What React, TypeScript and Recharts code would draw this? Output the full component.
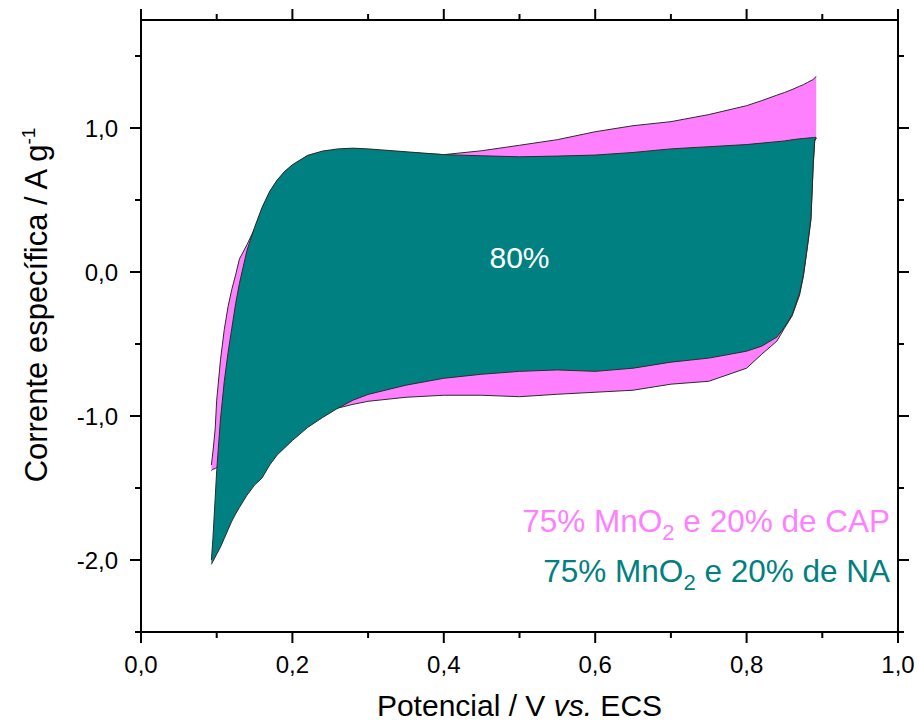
import React from 'react';
import { ComposedChart, Area, XAxis, YAxis, ReferenceDot, Legend } from 'recharts';

// potential grid (V vs. ECS) shared by both voltammograms
const potential = [
  0.093, 0.095, 0.098, 0.1, 0.105, 0.11, 0.115, 0.12, 0.125, 0.13, 0.14, 0.15, 0.16, 0.17, 0.18,
  0.19, 0.2, 0.22, 0.24, 0.26, 0.28, 0.3, 0.35, 0.4, 0.45, 0.5, 0.55, 0.6, 0.65, 0.7, 0.75, 0.8,
  0.82, 0.84, 0.85, 0.86, 0.87, 0.875, 0.88, 0.885, 0.888, 0.89, 0.892,
];

// 75% MnO2 e 20% de CAP (pink)
const capUpper = [
  -1.34, -1.25, -1.09, -0.89, -0.61, -0.4, -0.24, -0.12, -0.02, 0.09, 0.19, 0.3, 0.44, 0.555, 0.635,
  0.695, 0.74, 0.805, 0.835, 0.85, 0.855, 0.85, 0.83, 0.815, 0.842, 0.88, 0.919, 0.974, 1.016, 1.044,
  1.093, 1.155, 1.19, 1.228, 1.246, 1.267, 1.29, 1.301, 1.315, 1.329, 1.336, 1.35, 1.357,
];
const capLower = [
  -1.38, -1.37, -1.365, -1.357, -1.33, -1.31, -1.29, -1.27, -1.25, -1.23, -1.19, -1.15, -1.12, -1.09,
  -1.06, -1.04, -1.02, -0.99, -0.965, -0.945, -0.919, -0.898, -0.87, -0.856, -0.856, -0.866, -0.849,
  -0.835, -0.821, -0.779, -0.759, -0.668, -0.571, -0.48, -0.39, -0.306, -0.16, -0.03, 0.16, 0.36,
  0.74, 0.91, 0.93,
];

// 75% MnO2 e 20% de NA (teal)
const naUpper = [
  -2.0, -1.85, -1.57, -1.38, -1.02, -0.76, -0.56, -0.39, -0.22, -0.08, 0.15, 0.31, 0.45, 0.56, 0.64,
  0.7, 0.745, 0.81, 0.84, 0.855, 0.86, 0.855, 0.835, 0.815, 0.807, 0.8, 0.805, 0.812, 0.83, 0.855,
  0.87, 0.885, 0.895, 0.905, 0.91, 0.918, 0.925, 0.927, 0.93, 0.932, 0.933, 0.935, 0.935,
];
const naLower = [
  -2.03, -2.01, -1.98, -1.96, -1.91, -1.85, -1.79, -1.73, -1.68, -1.635, -1.55, -1.48, -1.43, -1.34,
  -1.27, -1.22, -1.17, -1.08, -1.01, -0.946, -0.89, -0.85, -0.786, -0.738, -0.71, -0.69, -0.68, -0.69,
  -0.668, -0.626, -0.598, -0.55, -0.515, -0.452, -0.383, -0.299, -0.146, -0.021, 0.167, 0.376, 0.75,
  0.919, 0.93,
];

const seriesNames = ['75% MnO2 e 20% de CAP', '75% MnO2 e 20% de NA'];
const seriesColors = ['#ff80ff', '#008080'];

const xTicks = [0, 0.1, 0.2, 0.3, 0.4, 0.5, 0.6, 0.7, 0.8, 0.9, 1.0];
const yTicks = [-2.5, -2, -1.5, -1, -0.5, 0, 0.5, 1, 1.5];

const data = potential.map((x, i) => ({
  x,
  cap: [capLower[i], capUpper[i]],
  na: [naLower[i], naUpper[i]],
}));

const PLOT = { left: 141, right: 898, top: 20, bottom: 632 };
const FONT = '"Liberation Sans", Arial, sans-serif';

const fmt = (v: number) => v.toFixed(1).replace('.', ',');

const axisLine = { stroke: '#000', strokeWidth: 2, strokeLinecap: 'square' as const };

// bottom axis ticks also mirror onto the top frame
const xTick = (props: any) => {
  const { payload } = props;
  const c = payload?.coordinate ?? props.x;
  const major = Math.round(payload.value * 10) % 2 === 0;
  const len = major ? 11 : 6;
  return (
    <g>
      <line x1={c} x2={c} y1={PLOT.bottom} y2={PLOT.bottom + len} stroke="#000" strokeWidth={2} />
      <line x1={c} x2={c} y1={PLOT.top} y2={PLOT.top - len} stroke="#000" strokeWidth={2} />
      {major && (
        <text x={c} y={PLOT.bottom + 40.5} textAnchor="middle" fontSize={24} fill="#000">
          {fmt(payload.value)}
        </text>
      )}
    </g>
  );
};

// left axis ticks also mirror onto the right frame
const yTick = (props: any) => {
  const { payload } = props;
  const c = payload?.coordinate ?? props.y;
  const major = Number.isInteger(payload.value);
  const len = major ? 11 : 6;
  return (
    <g>
      <line x1={PLOT.left} x2={PLOT.left - len} y1={c} y2={c} stroke="#000" strokeWidth={2} />
      <line x1={PLOT.right} x2={PLOT.right + len} y1={c} y2={c} stroke="#000" strokeWidth={2} />
      {major && (
        <text x={118} y={c + 8.5} textAnchor="end" fontSize={24} fill="#000">
          {fmt(payload.value)}
        </text>
      )}
    </g>
  );
};

const xTitle = () => (
  <text x={(PLOT.left + PLOT.right) / 2} y={716} textAnchor="middle" fontSize={30} fill="#000">
    Potencial / V <tspan fontStyle="italic">vs.</tspan> ECS
  </text>
);

const yTitle = () => (
  <text
    x={47}
    y={305}
    transform="rotate(-90 47 305)"
    textAnchor="middle"
    fontSize={31}
    fill="#000"
  >
    Corrente específica / A g<tspan fontSize={19} dy={-12}>-1</tspan>
  </text>
);

const withSub = (name: string) => {
  const [a, b] = name.split('MnO2');
  return (
    <>
      {a}MnO<span style={{ fontSize: 22, position: 'relative', top: 8 }}>2</span>
      {b}
    </>
  );
};

const renderLegend = () => (
  <div style={{ fontFamily: FONT }}>
    {seriesNames.map((name, i) => (
      <div
        key={name}
        style={{
          color: seriesColors[i],
          fontSize: 31.5,
          height: 50,
          lineHeight: '50px',
          textAlign: 'right',
          whiteSpace: 'nowrap',
        }}
      >
        {withSub(name)}
      </div>
    ))}
  </div>
);

export default function App() {
  return (
    <div style={{ position: 'absolute', left: 0, top: 0, width: 919, height: 724, background: '#fff', fontFamily: FONT }}>
      <ComposedChart
        width={919}
        height={724}
        data={data}
        margin={{ top: 8, right: 9, bottom: 20, left: 41 }}
      >
        <XAxis
          xAxisId="bottom"
          dataKey="x"
          type="number"
          domain={[0, 1]}
          allowDataOverflow
          ticks={xTicks}
          interval={0}
          height={72}
          tickLine={false}
          axisLine={axisLine}
          tick={xTick}
          label={xTitle}
        />
        <XAxis
          xAxisId="top"
          orientation="top"
          type="number"
          domain={[0, 1]}
          height={12}
          tickLine={false}
          axisLine={axisLine}
          tick={false}
        />
        <YAxis
          yAxisId="left"
          type="number"
          domain={[-2.5, 1.75]}
          allowDataOverflow
          ticks={yTicks}
          interval={0}
          width={100}
          tickLine={false}
          axisLine={axisLine}
          tick={yTick}
          label={yTitle}
        />
        <YAxis
          yAxisId="right"
          orientation="right"
          type="number"
          domain={[-2.5, 1.75]}
          width={12}
          tickLine={false}
          axisLine={axisLine}
          tick={false}
        />
        <Area
          xAxisId="bottom"
          yAxisId="left"
          type="linear"
          dataKey="cap"
          name={seriesNames[0]}
          fill={seriesColors[0]}
          fillOpacity={1}
          stroke="#2b2b2b"
          strokeWidth={1}
          dot={false}
          activeDot={false}
          isAnimationActive={false}
        />
        <Area
          xAxisId="bottom"
          yAxisId="left"
          type="linear"
          dataKey="na"
          name={seriesNames[1]}
          fill={seriesColors[1]}
          fillOpacity={1}
          stroke="#2b2b2b"
          strokeWidth={1}
          dot={false}
          activeDot={false}
          isAnimationActive={false}
        />
        <ReferenceDot
          xAxisId="bottom"
          yAxisId="left"
          x={0.5}
          y={0.1}
          r={0}
          fill="none"
          stroke="none"
          label={{ value: '80%', position: 'center', fill: '#fff', fontSize: 30 }}
        />
        <Legend
          layout="vertical"
          align="center"
          verticalAlign="middle"
          content={renderLegend}
          wrapperStyle={{ position: 'absolute', left: 400, top: 496, width: 490, height: 100 }}
        />
      </ComposedChart>
    </div>
  );
}
